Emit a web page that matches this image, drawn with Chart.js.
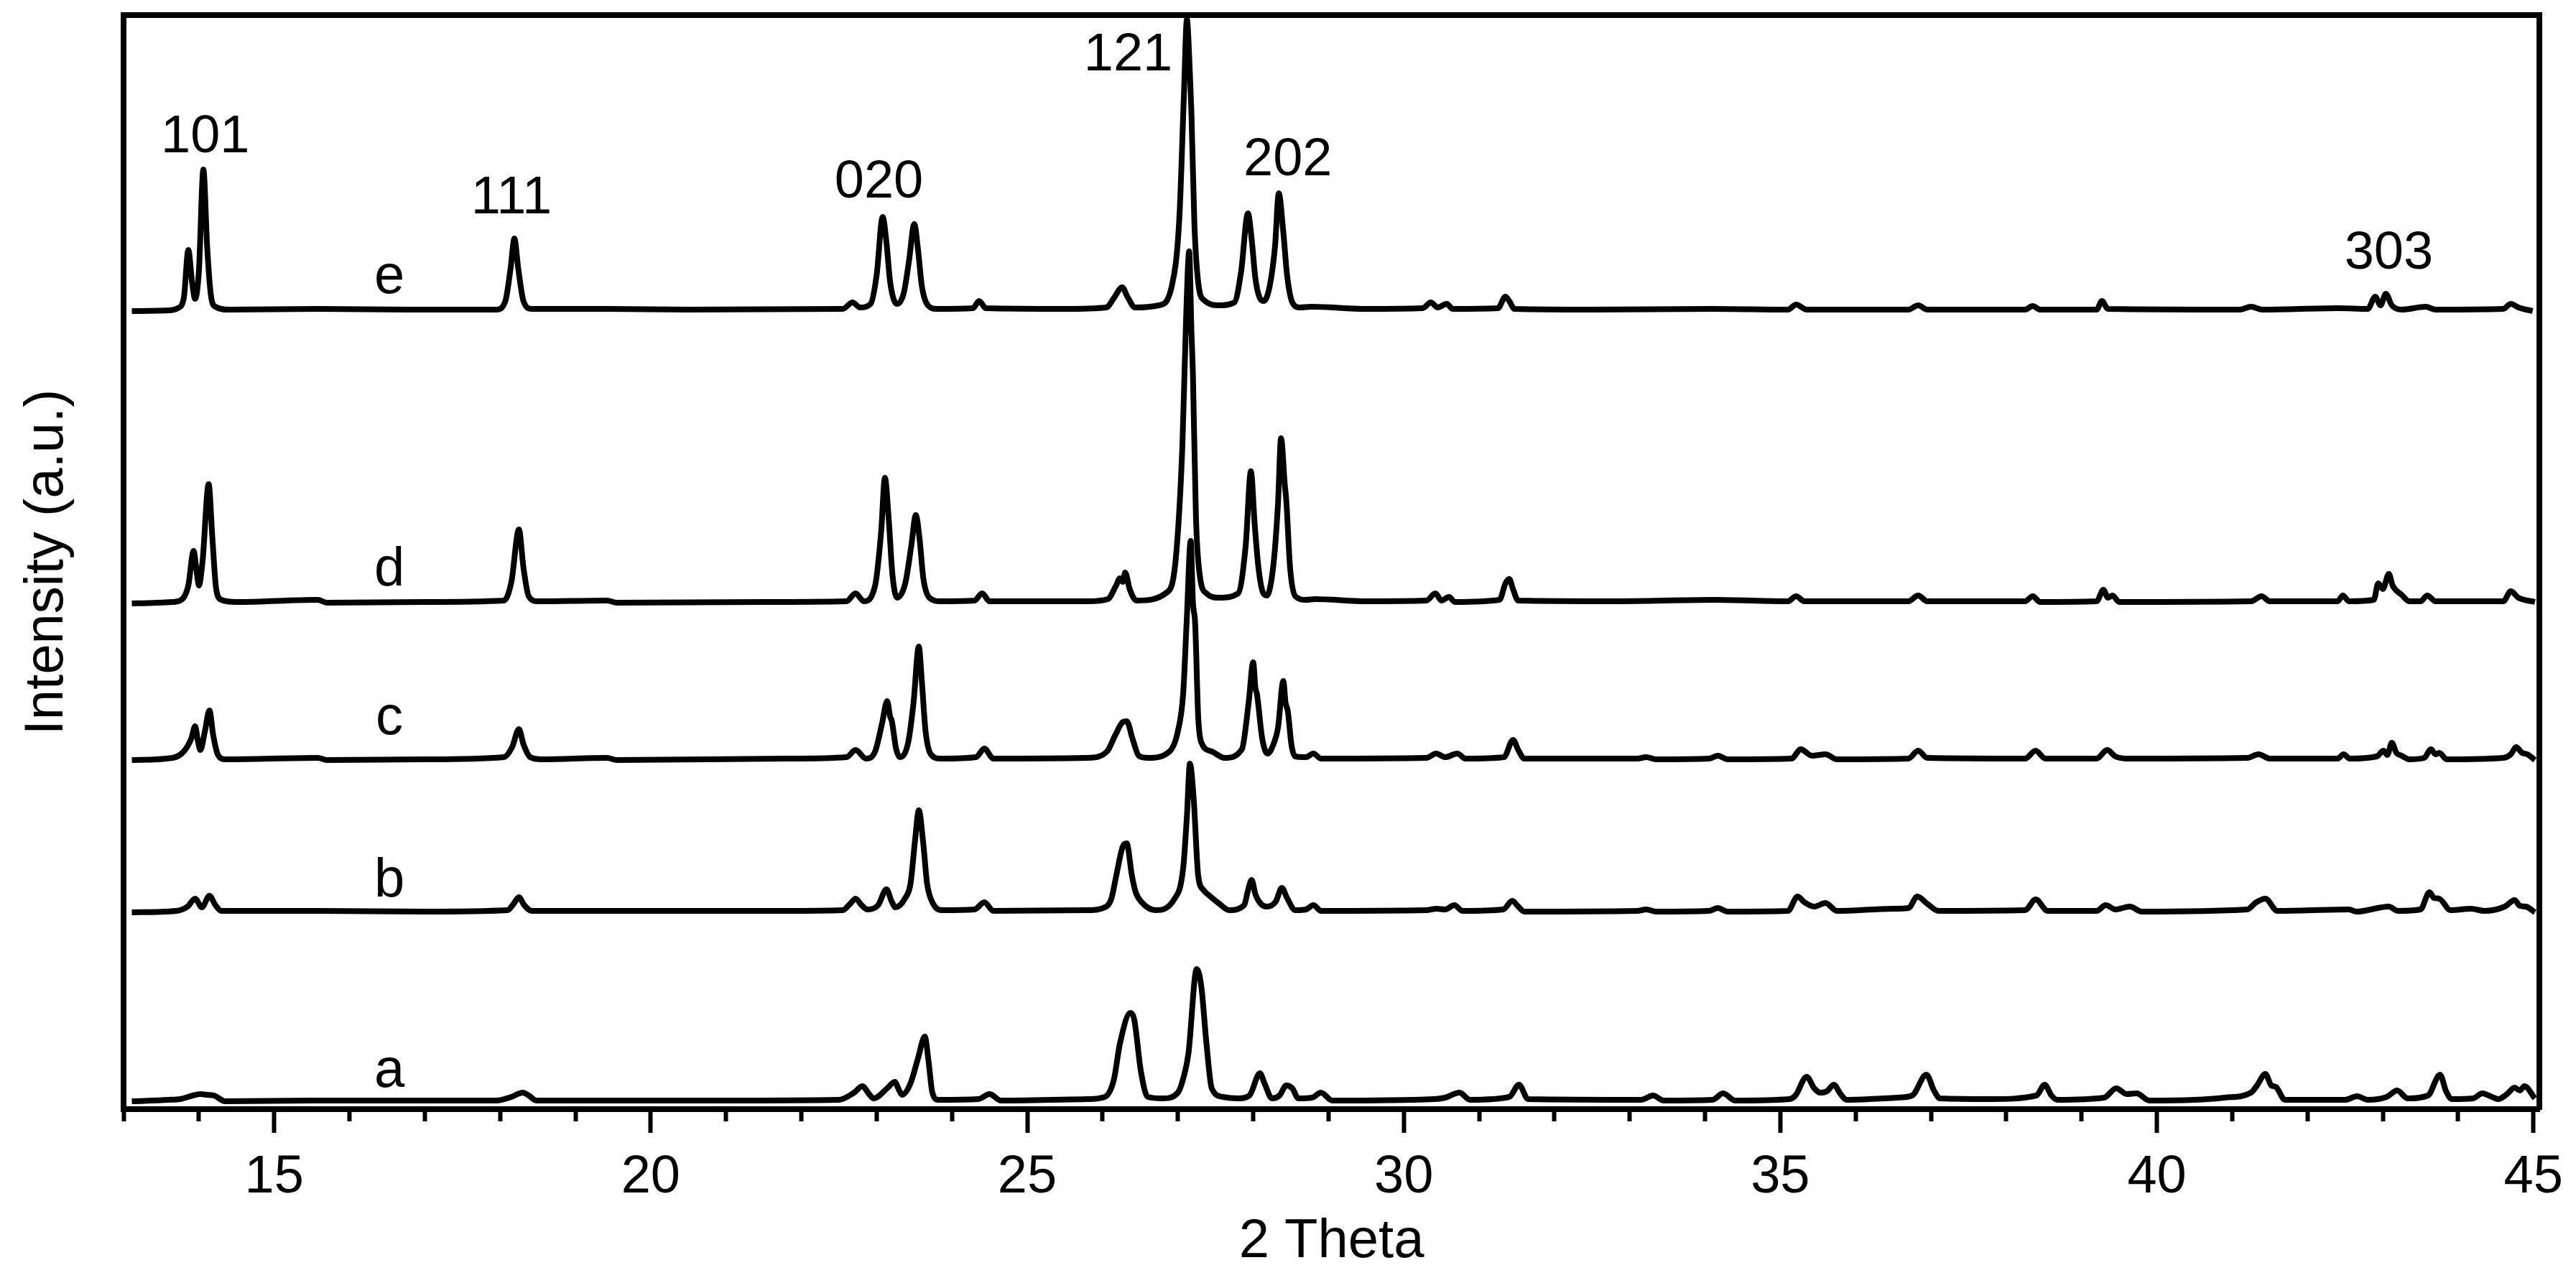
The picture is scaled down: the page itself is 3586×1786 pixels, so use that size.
<!DOCTYPE html>
<html>
<head>
<meta charset="utf-8">
<script src="https://cdn.jsdelivr.net/npm/chart.js@4.4.1/dist/chart.umd.min.js"></script>
<style>
  body { margin: 0; background: #fff; }
</style>
</head>
<body>
<canvas id="xrdChart" width="3586" height="1786"></canvas>
<script>
// stacked XRD patterns, [2theta, intensity above own baseline]
const sampleNames = ['a', 'b', 'c', 'd', 'e'];
const baselines = [11, 274, 486, 704, 1111];

const patternA = [[13.11,0],[13.60,2],[13.75,3],[13.92,8],[14.02,10],[14.10,9],[14.20,8],[14.35,0],[15.50,1],[17.00,1],[17.95,1],[18.15,6],[18.30,12],[18.38,8],[18.48,1],[21.00,1],[22.50,2],[22.70,12],[22.81,21],[22.90,10],[22.96,4],[23.14,18],[23.24,27],[23.30,15],[23.34,9],[23.45,25],[23.55,60],[23.64,90],[23.69,55],[23.74,12],[23.82,2],[24.35,3],[24.50,10],[24.65,1],[25.80,3],[26.03,6],[26.15,30],[26.23,80],[26.37,123],[26.42,114],[26.51,41],[26.60,6],[26.80,4],[27.00,12],[27.08,35],[27.14,66],[27.25,184],[27.31,161],[27.38,80],[27.45,18],[27.60,6],[27.80,4],[27.95,8],[28.09,39],[28.15,25],[28.25,4],[28.35,8],[28.44,22],[28.52,18],[28.60,4],[28.78,5],[28.90,12],[29.05,1],[30.40,3],[30.55,5],[30.74,12],[30.88,2],[31.40,6],[31.53,23],[31.65,3],[33.15,2],[33.31,8],[33.45,1],[34.10,2],[34.24,11],[34.40,1],[35.12,3],[35.20,8],[35.35,34],[35.45,18],[35.53,12],[35.62,14],[35.71,23],[35.80,10],[35.88,2],[36.55,5],[36.75,8],[36.94,37],[37.04,15],[37.12,4],[37.80,3],[38.40,8],[38.51,23],[38.60,8],[38.68,2],[39.30,5],[39.46,18],[39.60,10],[39.73,11],[39.90,1],[40.50,2],[40.90,5],[41.25,12],[41.33,22],[41.44,38],[41.52,22],[41.58,20],[41.70,2],[42.50,2],[42.66,7],[42.80,2],[43.05,6],[43.19,15],[43.33,4],[43.60,8],[43.76,37],[43.84,14],[43.92,3],[44.20,4],[44.32,11],[44.45,6],[44.53,3],[44.65,10],[44.75,19],[44.82,15],[44.88,21],[45.02,4]];

const patternB = [[13.11,0],[13.70,2],[13.85,8],[13.95,19],[14.04,7],[14.14,23],[14.22,10],[14.30,2],[15.58,2],[17.00,1],[18.10,3],[18.18,12],[18.25,21],[18.32,10],[18.42,2],[19.42,2],[21.80,2],[22.55,3],[22.65,12],[22.72,19],[22.80,10],[22.88,4],[23.02,10],[23.13,32],[23.20,15],[23.25,7],[23.38,20],[23.45,40],[23.51,100],[23.56,142],[23.62,95],[23.67,40],[23.75,12],[23.88,3],[24.30,4],[24.43,14],[24.55,2],[25.80,3],[26.05,8],[26.12,20],[26.18,50],[26.27,92],[26.32,96],[26.39,51],[26.44,28],[26.52,14],[26.70,3],[26.95,18],[27.07,61],[27.12,134],[27.16,207],[27.21,158],[27.27,51],[27.34,31],[27.41,24],[27.55,12],[27.68,3],[27.88,10],[27.93,30],[27.98,45],[28.03,25],[28.10,12],[28.18,8],[28.30,15],[28.38,34],[28.45,20],[28.56,3],[28.70,4],[28.80,10],[28.90,2],[30.30,3],[30.43,5],[30.55,4],[30.67,10],[30.78,2],[31.32,4],[31.44,16],[31.52,8],[31.60,1],[33.10,2],[33.22,4],[33.35,1],[34.05,2],[34.17,6],[34.30,1],[35.10,2],[35.23,22],[35.32,14],[35.45,8],[35.60,13],[35.75,2],[36.48,5],[36.70,6],[36.82,22],[36.95,12],[37.10,2],[38.25,3],[38.39,18],[38.55,2],[39.20,2],[39.32,10],[39.45,4],[39.64,8],[39.80,1],[41.20,4],[41.32,14],[41.44,19],[41.60,2],[42.55,4],[42.65,1],[43.08,8],[43.20,2],[43.50,4],[43.62,28],[43.68,20],[43.75,19],[43.90,3],[44.17,5],[44.35,2],[44.62,8],[44.75,17],[44.82,9],[44.90,8],[45.02,0]];

const patternC = [[13.11,0],[13.65,3],[13.80,12],[13.90,30],[13.95,47],[13.99,25],[14.02,14],[14.08,40],[14.14,69],[14.19,35],[14.25,8],[14.35,1],[15.58,3],[15.70,0],[17.00,1],[18.05,4],[18.16,18],[18.25,43],[18.31,22],[18.40,4],[18.55,1],[19.42,3],[19.55,0],[21.80,2],[22.60,4],[22.72,14],[22.86,2],[22.98,12],[23.07,50],[23.14,82],[23.18,60],[23.20,55],[23.26,15],[23.31,4],[23.42,25],[23.49,80],[23.56,158],[23.60,110],[23.65,40],[23.72,8],[23.85,2],[24.32,4],[24.43,16],[24.55,2],[25.80,3],[26.06,12],[26.17,35],[26.27,53],[26.32,54],[26.40,29],[26.48,6],[26.60,3],[26.89,12],[27.00,40],[27.07,92],[27.12,200],[27.17,305],[27.20,220],[27.23,189],[27.27,60],[27.31,25],[27.45,12],[27.62,3],[27.85,15],[27.94,80],[28.00,136],[28.03,100],[28.05,92],[28.12,30],[28.19,9],[28.28,25],[28.33,45],[28.40,110],[28.43,80],[28.46,68],[28.51,20],[28.56,5],[28.70,4],[28.80,9],[28.90,2],[30.30,3],[30.43,9],[30.55,4],[30.71,9],[30.82,2],[31.33,4],[31.45,28],[31.52,14],[31.60,2],[33.10,2],[33.22,4],[33.35,1],[34.05,2],[34.17,6],[34.30,1],[35.15,2],[35.27,15],[35.42,6],[35.60,8],[35.75,1],[36.70,2],[36.83,13],[36.95,3],[38.25,2],[38.39,13],[38.52,2],[39.20,2],[39.34,14],[39.45,5],[39.62,2],[41.20,3],[41.35,8],[41.50,2],[42.40,2],[42.48,8],[42.56,2],[42.92,5],[43.01,13],[43.06,7],[43.12,24],[43.18,10],[43.25,6],[43.35,1],[43.55,3],[43.64,15],[43.70,8],[43.75,10],[43.85,1],[44.60,3],[44.70,8],[44.77,18],[44.85,10],[44.92,8],[45.02,0]];

const patternD = [[13.11,0],[13.65,2],[13.78,6],[13.86,25],[13.93,73],[13.97,45],[14.00,25],[14.05,60],[14.13,166],[14.18,90],[14.23,20],[14.30,5],[14.50,2],[15.58,5],[15.70,1],[17.00,2],[18.05,4],[18.15,30],[18.25,103],[18.31,50],[18.38,10],[18.50,3],[19.42,4],[19.55,1],[21.50,2],[22.60,3],[22.72,14],[22.83,3],[22.98,25],[23.06,100],[23.11,175],[23.16,118],[23.21,40],[23.27,8],[23.38,28],[23.46,80],[23.52,123],[23.57,90],[23.62,35],[23.70,8],[23.85,3],[24.30,4],[24.40,14],[24.50,3],[25.80,3],[26.07,6],[26.18,25],[26.23,35],[26.27,30],[26.30,43],[26.36,20],[26.45,4],[26.85,15],[26.97,60],[27.06,220],[27.11,400],[27.15,490],[27.18,380],[27.20,318],[27.24,120],[27.29,40],[27.38,14],[27.55,8],[27.80,14],[27.90,80],[27.97,184],[28.02,110],[28.07,50],[28.13,15],[28.18,11],[28.27,55],[28.33,140],[28.37,230],[28.42,165],[28.44,143],[28.49,50],[28.56,10],[28.70,5],[28.82,6],[29.50,3],[30.30,4],[30.42,14],[30.50,4],[30.60,9],[30.68,2],[31.27,5],[31.35,28],[31.40,34],[31.45,20],[31.52,4],[32.80,3],[34.12,5],[35.10,3],[35.21,10],[35.32,3],[36.70,3],[36.83,11],[36.95,3],[38.25,3],[38.35,10],[38.45,2],[39.20,3],[39.29,19],[39.35,8],[39.41,11],[39.50,2],[41.25,3],[41.39,10],[41.50,3],[42.40,3],[42.47,11],[42.55,3],[42.88,5],[42.94,28],[43.00,20],[43.08,41],[43.13,25],[43.17,19],[43.25,12],[43.35,3],[43.50,3],[43.59,11],[43.70,3],[44.60,3],[44.70,17],[44.80,8],[45.02,2]];

const patternE = [[13.11,0],[13.60,1],[13.72,4],[13.80,18],[13.86,85],[13.91,40],[13.95,17],[14.00,55],[14.06,197],[14.11,90],[14.16,22],[14.22,6],[14.40,2],[15.58,3],[16.80,2],[17.95,2],[18.07,14],[18.14,60],[18.19,101],[18.24,60],[18.31,14],[18.42,3],[19.42,3],[20.50,2],[22.55,3],[22.68,12],[22.78,5],[22.92,10],[23.00,50],[23.08,131],[23.13,96],[23.18,40],[23.27,10],[23.36,25],[23.43,70],[23.50,121],[23.55,85],[23.60,35],[23.68,8],[23.80,3],[24.28,4],[24.36,14],[24.45,4],[25.50,3],[26.05,5],[26.15,18],[26.26,33],[26.33,20],[26.43,5],[26.75,8],[26.92,35],[27.02,130],[27.08,300],[27.12,406],[27.16,330],[27.18,276],[27.22,120],[27.27,40],[27.35,15],[27.55,8],[27.75,12],[27.84,55],[27.93,136],[27.98,100],[28.03,45],[28.10,16],[28.14,14],[28.22,35],[28.29,90],[28.34,164],[28.40,110],[28.45,50],[28.52,12],[28.62,5],[28.77,6],[29.50,3],[30.25,4],[30.36,12],[30.45,5],[30.57,10],[30.65,3],[31.25,4],[31.35,20],[31.40,14],[31.47,3],[32.50,2],[34.10,3],[35.10,2],[35.21,9],[35.35,2],[36.70,2],[36.83,8],[36.95,2],[38.25,2],[38.35,7],[38.45,2],[39.20,2],[39.27,14],[39.35,3],[41.10,2],[41.25,6],[41.40,2],[42.41,4],[42.80,3],[42.90,20],[42.97,8],[43.04,24],[43.12,8],[43.25,2],[43.57,6],[43.70,2],[44.60,3],[44.70,10],[44.80,5],[44.99,0]];

const patterns = [patternA, patternB, patternC, patternD, patternE];

// reflection labels: text, 2theta, baseline of text (intensity units)
const peakNames = ['101', '111', '020', '121', '202', '303'];
const peakTheta = [14.085, 18.15, 23.03, 26.34, 28.46, 43.08];
const peakLevel = [1332, 1247, 1269, 1446, 1300, 1170];

// curve letters
const letterTheta = 16.53;
const letterLevel = [31, 296, 522, 729, 1136];

const xMin = 13, xMax = 45.08;
const yMax = 1523;

const FONT = '"Liberation Sans", Arial, sans-serif';
Chart.defaults.font.family = FONT;
Chart.defaults.color = '#000';

const textPlugin = {
  id: 'xrdText',
  afterDatasetsDraw(chart) {
    const { ctx, scales: { x, y } } = chart;
    ctx.save();
    ctx.fillStyle = '#000';
    ctx.textAlign = 'center';
    ctx.textBaseline = 'alphabetic';
    ctx.font = '74px ' + FONT;
    peakNames.forEach((name, i) => {
      ctx.fillText(name, x.getPixelForValue(peakTheta[i]), y.getPixelForValue(peakLevel[i]));
    });
    ctx.font = '76px ' + FONT;
    sampleNames.forEach((name, i) => {
      ctx.fillText(name, x.getPixelForValue(letterTheta), y.getPixelForValue(letterLevel[i]));
    });
    ctx.restore();
  }
};

const datasets = patterns.map((pts, i) => ({
  label: sampleNames[i],
  data: pts.map(p => ({ x: p[0], y: p[1] + baselines[i] })),
  borderColor: '#000',
  borderWidth: 8,
  borderJoinStyle: 'round',
  pointRadius: 0,
  cubicInterpolationMode: 'monotone',
  fill: false,
}));

const ctx = document.getElementById('xrdChart').getContext('2d');
new Chart(ctx, {
  type: 'line',
  data: { datasets },
  plugins: [textPlugin],
  options: {
    responsive: false,
    animation: false,
    devicePixelRatio: 1,
    layout: { padding: { top: 21, right: 49, left: 0, bottom: 0 } },
    plugins: {
      legend: { display: false },
      tooltip: { enabled: false },
    },
    scales: {
      x: {
        type: 'linear',
        position: 'bottom',
        min: xMin,
        max: xMax,
        afterFit: (s) => { s.height = 242; },
        border: { display: true, color: '#000', width: 8 },
        grid: {
          drawOnChartArea: false,
          drawTicks: true,
          tickLength: 33,
          tickWidth: 6,
          tickColor: '#000',
          tickBorderDash: (c) => (c.tick && c.tick.value % 5 === 0 ? [] : [13, 100]),
        },
        ticks: {
          stepSize: 1,
          autoSkip: false,
          includeBounds: false,
          maxRotation: 0,
          padding: 18,
          font: { size: 74 },
          callback: (v) => (v % 5 === 0 ? String(v) : ''),
        },
        title: {
          display: true,
          text: '2 Theta',
          font: { size: 76 },
          padding: { top: 0, bottom: 11 },
        },
      },
      x2: {
        type: 'linear',
        position: 'top',
        min: xMin,
        max: xMax,
        afterFit: (s) => { s.height = 0; },
        border: { display: true, color: '#000', width: 8 },
        grid: { drawOnChartArea: false, drawTicks: false },
        ticks: { display: false },
      },
      y: {
        type: 'linear',
        position: 'left',
        min: 0,
        max: yMax,
        afterFit: (s) => { s.width = 172; },
        border: { display: true, color: '#000', width: 8 },
        grid: { drawOnChartArea: false, drawTicks: false },
        ticks: { display: false },
        title: {
          display: true,
          text: 'Intensity (a.u.)',
          font: { size: 76 },
          padding: { top: 20, bottom: 0 },
        },
      },
      y2: {
        type: 'linear',
        position: 'right',
        min: 0,
        max: yMax,
        afterFit: (s) => { s.width = 0; },
        border: { display: true, color: '#000', width: 8 },
        grid: { drawOnChartArea: false, drawTicks: false },
        ticks: { display: false },
      },
    },
  },
});
</script>
</body>
</html>
